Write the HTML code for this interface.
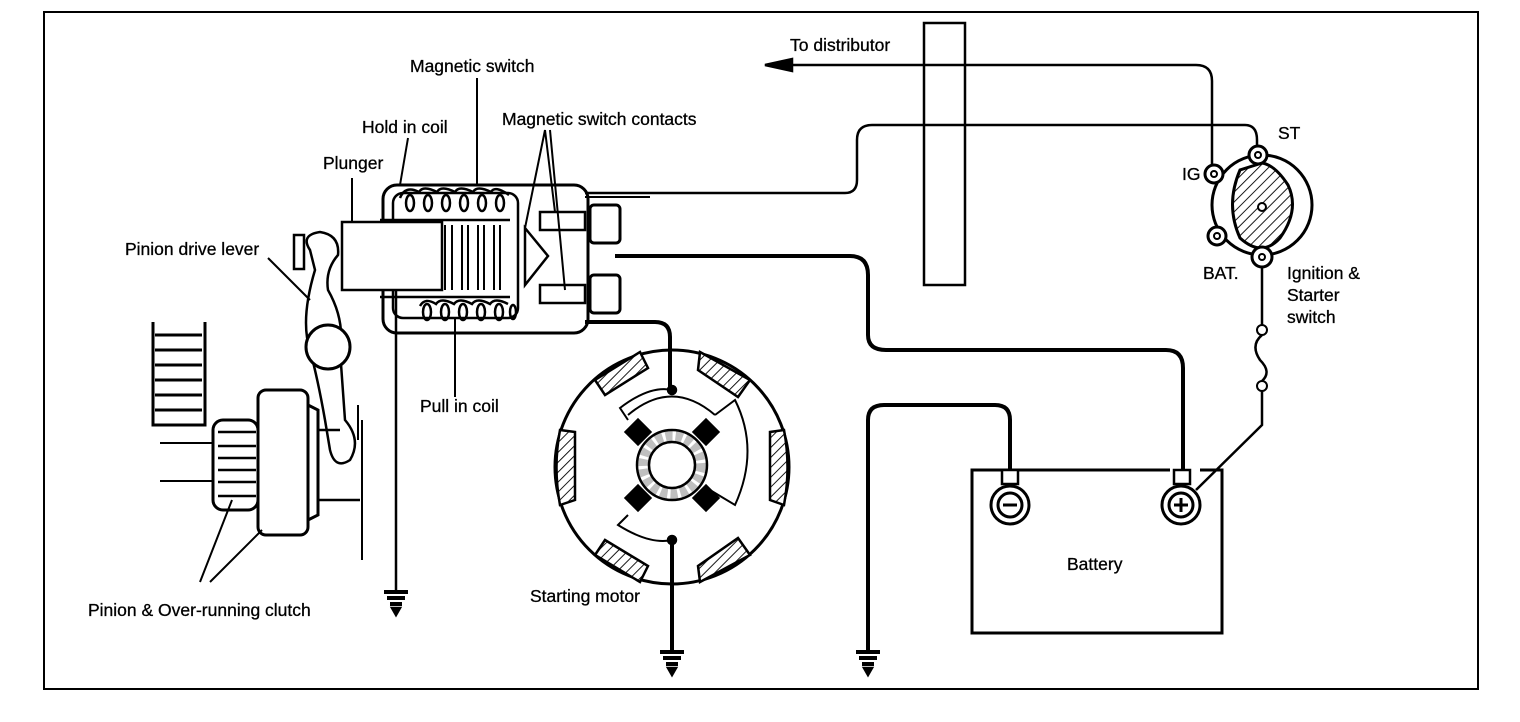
<!DOCTYPE html>
<html><head><meta charset="utf-8"><style>
html,body{margin:0;padding:0;background:#fff;}
svg{display:block;}
text{font-family:"Liberation Sans",Arial,sans-serif;font-size:17.5px;fill:#000;stroke:#000;stroke-width:0.3px;}
</style></head><body>
<svg width="1520" height="722" viewBox="0 0 1520 722" xmlns="http://www.w3.org/2000/svg">
<defs>
<pattern id="h" width="7" height="7" patternUnits="userSpaceOnUse" patternTransform="rotate(45)">
<rect width="7" height="7" fill="#fff"/><line x1="0" y1="0" x2="0" y2="7" stroke="#000" stroke-width="1.8"/></pattern>
<g id="gnd"><line x1="-12" y1="0" x2="12" y2="0" stroke="#000" stroke-width="4"/><line x1="-9" y1="6" x2="9" y2="6" stroke="#000" stroke-width="4"/><line x1="-6" y1="12" x2="6" y2="12" stroke="#000" stroke-width="4"/><path d="M-4 16 L4 16 L0 23 Z" fill="#000"/></g>
</defs>
<g fill="none" stroke="#000" stroke-width="2.5">
<path d="M44 12 V689 H1478 V12 Z" stroke-width="2"/>
<path d="M924 285 V23 H965 V285 Z" stroke-width="2.5"/>
<path d="M790 65 H1196 Q1212 65 1212 81 V168" stroke-width="2.5"/>
<path d="M765 65 L792 59 L792 71 Z" fill="#000"/>
<path d="M585 193 H845 Q857 193 857 180 V140 Q857 125 872 125 H1245 Q1257 125 1257 140 V150" stroke-width="2.5"/>
<path d="M585 197 H650" stroke-width="2"/>
<path d="M615 256 H850 Q868 256 868 275 V335 Q868 350 886 350 H1166 Q1183 350 1183 368 V470" stroke-width="4"/>
<path d="M585 322 H655 Q670 322 670 337 V390" stroke-width="4"/>
<path d="M672 540 V652" stroke-width="4"/>
<use href="#gnd" x="672" y="652"/>
<path d="M1010 470 V420 Q1010 405 995 405 H884 Q868 405 868 420 V652" stroke-width="4"/>
<use href="#gnd" x="868" y="652"/>
<path d="M396 290 V590" stroke-width="2.5"/>
<use href="#gnd" x="396" y="592"/>
<path d="M1200 470 H1222 V633 H972 V470 H1170" stroke-width="3"/>
<path d="M1030 470 H1168" stroke-width="3"/>
<rect x="1002" y="470" width="16" height="14" fill="#fff"/>
<rect x="1174" y="470" width="16" height="14" fill="#fff"/>
<circle cx="1010" cy="505" r="19" fill="#fff" stroke-width="3"/>
<circle cx="1010" cy="505" r="12" stroke-width="3"/>
<path d="M1003 505 H1017" stroke-width="3"/>
<circle cx="1181" cy="505" r="19" fill="#fff" stroke-width="3"/>
<circle cx="1181" cy="505" r="12" stroke-width="3"/>
<path d="M1174 505 H1188 M1181 498 V512" stroke-width="3"/>
<circle cx="1262" cy="205" r="50" stroke-width="3"/>
<path d="M1240 170 Q1225 205 1240 238 Q1262 258 1280 238 Q1300 210 1288 185 Q1275 165 1262 163 Z" fill="url(#h)" stroke-width="3"/>
<circle cx="1262" cy="207" r="4" fill="#fff" stroke-width="2"/>
<circle cx="1258" cy="155" r="9" fill="#fff" stroke-width="3"/><circle cx="1258" cy="155" r="3" stroke-width="2"/>
<circle cx="1214" cy="174" r="9" fill="#fff" stroke-width="3"/><circle cx="1214" cy="174" r="3" stroke-width="2"/>
<circle cx="1217" cy="236" r="9" fill="#fff" stroke-width="3"/><circle cx="1217" cy="236" r="3" stroke-width="2"/>
<circle cx="1262" cy="257" r="10" fill="#fff" stroke-width="3"/><circle cx="1262" cy="257" r="3" stroke-width="2"/>
<path d="M1262 267 V325 M1262 335 Q1250 345 1260 360 Q1272 372 1262 381 M1262 391 V425 L1196 490" stroke-width="2.5"/>
<circle cx="1262" cy="330" r="5" fill="#fff" stroke-width="2"/>
<circle cx="1262" cy="386" r="5" fill="#fff" stroke-width="2"/>
<rect x="383" y="185" width="205" height="148" rx="14" stroke-width="3"/>
<rect x="393" y="193" width="125" height="125" rx="10" stroke-width="2.5"/>
<g stroke-width="2.5">
<ellipse cx="410" cy="203" rx="4" ry="8"/><ellipse cx="428" cy="203" rx="4" ry="8"/><ellipse cx="446" cy="203" rx="4" ry="8"/><ellipse cx="464" cy="203" rx="4" ry="8"/><ellipse cx="482" cy="203" rx="4" ry="8"/><ellipse cx="500" cy="203" rx="4" ry="8"/>
<path d="M400 198 Q405 185 419 192 Q423 185 437 192 Q441 185 455 192 Q459 185 473 192 Q477 185 491 192 Q495 185 509 195"/>
<ellipse cx="427" cy="312" rx="4" ry="8"/><ellipse cx="445" cy="312" rx="4" ry="8"/><ellipse cx="463" cy="312" rx="4" ry="8"/><ellipse cx="481" cy="312" rx="4" ry="8"/><ellipse cx="499" cy="312" rx="4" ry="8"/><ellipse cx="513" cy="312" rx="3" ry="7"/>
<path d="M420 306 Q425 297 436 304 Q441 297 454 304 Q459 297 472 304 Q477 297 490 304 Q495 297 508 304"/>
</g>
<path d="M380 220 H510 M380 297 H510" stroke-width="2.5"/>
<rect x="342" y="222" width="100" height="68" fill="#fff" stroke-width="2.5"/>
<path d="M445 225 V290 M452 225 V290 M462 225 V290 M468 225 V290 M478 225 V290 M484 225 V290 M494 225 V290 M500 225 V290" stroke-width="2"/>
<path d="M525 228 L548 256 L525 285 Z" stroke-width="2.5"/>
<rect x="540" y="212" width="45" height="18" fill="#fff" stroke-width="2.5"/>
<rect x="540" y="285" width="45" height="18" fill="#fff" stroke-width="2.5"/>
<rect x="590" y="205" width="30" height="38" rx="4" fill="#fff" stroke-width="3"/>
<rect x="590" y="275" width="30" height="38" rx="4" fill="#fff" stroke-width="3"/>
<rect x="294" y="235" width="10" height="34" fill="#fff" stroke-width="2.5"/>
<path d="M310 250 Q300 235 320 232 Q340 235 338 255 Q325 270 328 290 Q345 320 340 350 L345 420 Q362 440 350 460 Q335 470 330 450 L325 420 Q318 380 310 350 Q300 320 315 270 Z" fill="#fff" stroke-width="2.5"/>
<circle cx="328" cy="347" r="22" fill="#fff" stroke-width="3"/>
<rect x="258" y="390" width="50" height="145" rx="8" fill="#fff" stroke-width="3"/>
<path d="M308 405 L318 410 V515 L308 520" stroke-width="3"/>
<path d="M318 430 H340 M318 500 H360" stroke-width="2.5"/>
<path d="M362 420 V560 M358 405 V440" stroke-width="2"/>
<rect x="213" y="420" width="45" height="90" rx="10" fill="#fff" stroke-width="3"/>
<path d="M218 432 H256 M218 446 H256 M218 458 H256 M218 470 H256 M218 482 H256 M218 496 H256" stroke-width="2.5"/>
<path d="M160 443 H213 M160 481 H213" stroke-width="2"/>
<path d="M153 322 V425 H205 V322" stroke-width="3"/>
<path d="M155 335 H202 M155 350 H202 M155 365 H202 M155 380 H202 M155 395 H202 M155 410 H202" stroke-width="3"/>
<circle cx="672" cy="467" r="117" stroke-width="3"/>
<g fill="url(#h)" stroke-width="2.5">
<path d="M595 380 L640 352 L648 368 L605 395 Z"/>
<path d="M700 352 L750 380 L738 397 L698 370 Z"/>
<path d="M560 430 L575 432 L575 500 L560 505 Q553 467 560 430 Z"/>
<path d="M784 430 L770 432 L770 500 L784 505 Q791 467 784 430 Z"/>
<path d="M595 555 L640 582 L648 566 L605 540 Z"/>
<path d="M700 582 L750 555 L738 538 L698 566 Z"/>
</g>
<path d="M628 415 Q672 378 715 415" stroke-width="2"/>
<path d="M628 420 L620 408 Q650 385 672 390" stroke-width="2"/>
<path d="M715 415 L735 400 Q760 450 735 505 L710 490" stroke-width="2"/>
<path d="M628 515 L618 525 Q650 545 672 540" stroke-width="2"/>
<circle cx="672" cy="390" r="4" fill="#000"/>
<circle cx="672" cy="540" r="4" fill="#000"/>
<circle cx="672" cy="465" r="35" stroke-width="2.5"/>
<circle cx="672" cy="465" r="23" stroke-width="2.5"/>
<circle cx="672" cy="465" r="29" stroke-width="10" stroke-dasharray="7 3" stroke="#000" opacity="0.25"/>
<g fill="#000" stroke="none">
<rect x="-10" y="-10" width="20" height="20" transform="translate(638,432) rotate(45)"/>
<rect x="-10" y="-10" width="20" height="20" transform="translate(706,432) rotate(45)"/>
<rect x="-10" y="-10" width="20" height="20" transform="translate(638,498) rotate(45)"/>
<rect x="-10" y="-10" width="20" height="20" transform="translate(706,498) rotate(45)"/>
</g>
<g stroke-width="2">
<path d="M477 78 V185"/>
<path d="M408 138 L400 185"/>
<path d="M545 130 L525 228 M545 130 L555 212 M550 130 L565 290"/>
<path d="M352 178 V222"/>
<path d="M268 258 L310 300"/>
<path d="M455 397 V318"/>
<path d="M200 582 L232 500 M210 582 L262 530"/>
</g>
</g>
<text x="790" y="51">To distributor</text>
<text x="410" y="72">Magnetic switch</text>
<text x="362" y="133">Hold in coil</text>
<text x="502" y="125">Magnetic switch contacts</text>
<text x="323" y="169">Plunger</text>
<text x="125" y="255">Pinion drive lever</text>
<text x="420" y="412">Pull in coil</text>
<text x="530" y="602">Starting motor</text>
<text x="88" y="616">Pinion &amp; Over-running clutch</text>
<text x="1067" y="570">Battery</text>
<text x="1278" y="139">ST</text>
<text x="1182" y="180">IG</text>
<text x="1203" y="279">BAT.</text>
<text x="1287" y="279">Ignition &amp;</text>
<text x="1287" y="301">Starter</text>
<text x="1287" y="323">switch</text>
</svg>
</body></html>
